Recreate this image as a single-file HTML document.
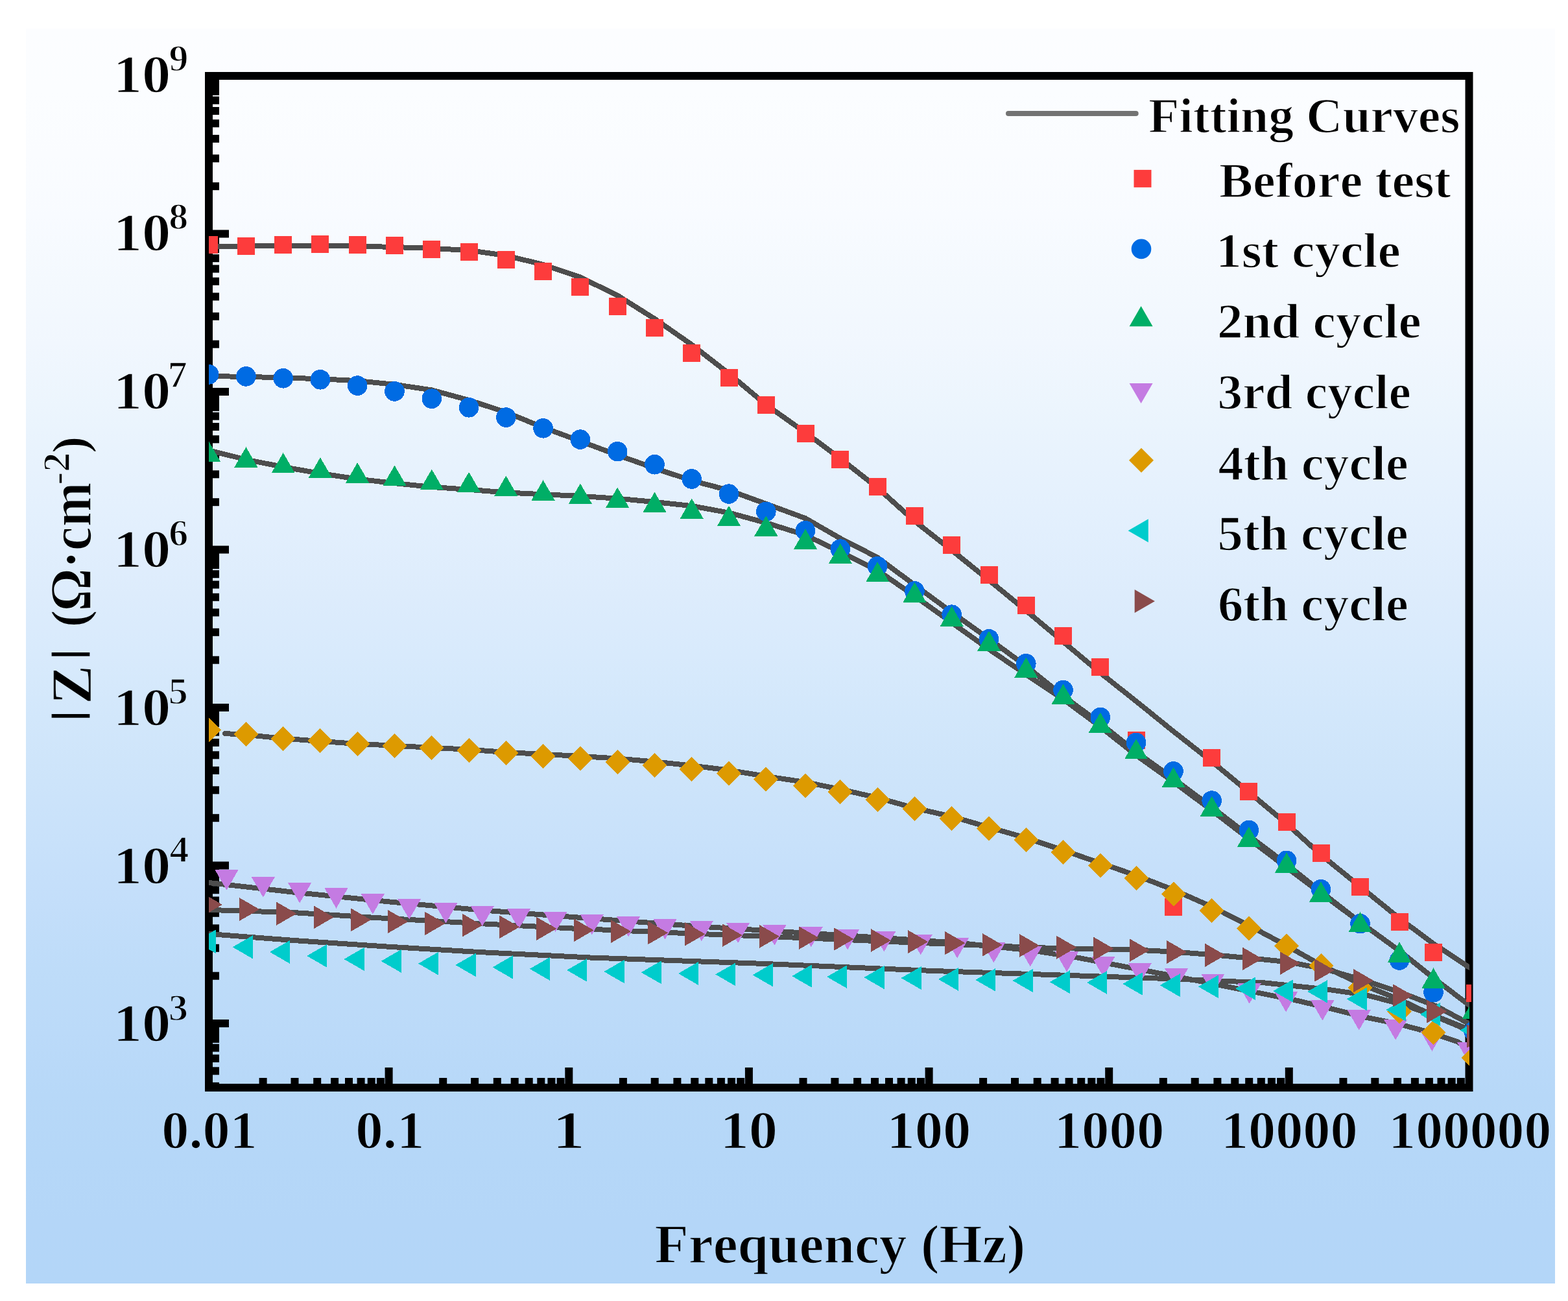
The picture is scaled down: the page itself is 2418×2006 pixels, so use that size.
<!DOCTYPE html><html><head><meta charset="utf-8"><title>Bode |Z| plot</title><style>html,body{margin:0;padding:0;background:#fff;width:2418px;height:2006px;overflow:hidden}svg{display:block}text{font-family:'Liberation Serif',serif;font-weight:bold;font-kerning:none}</style></head><body>
<svg width="2418" height="2006" viewBox="0 0 2418 2006">
<defs><linearGradient id="bg" x1="0" y1="0" x2="0" y2="1"><stop offset="0.00" stop-color="#fcfdff"/><stop offset="0.05" stop-color="#fbfdff"/><stop offset="0.10" stop-color="#fafcff"/><stop offset="0.15" stop-color="#f8fbff"/><stop offset="0.20" stop-color="#f4f9fe"/><stop offset="0.25" stop-color="#f1f7fe"/><stop offset="0.30" stop-color="#ecf5fd"/><stop offset="0.35" stop-color="#e7f2fd"/><stop offset="0.40" stop-color="#e2effd"/><stop offset="0.45" stop-color="#ddecfc"/><stop offset="0.50" stop-color="#d8eafc"/><stop offset="0.55" stop-color="#d2e7fb"/><stop offset="0.60" stop-color="#cde4fa"/><stop offset="0.65" stop-color="#c8e1fa"/><stop offset="0.70" stop-color="#c3defa"/><stop offset="0.75" stop-color="#bedcf9"/><stop offset="0.80" stop-color="#bbdaf9"/><stop offset="0.85" stop-color="#b7d8f8"/><stop offset="0.90" stop-color="#b5d7f8"/><stop offset="0.95" stop-color="#b4d6f8"/><stop offset="1.00" stop-color="#b3d6f8"/></linearGradient><clipPath id="pc"><rect x="322" y="117" width="1944" height="1560"/></clipPath></defs>
<rect width="2418" height="2006" fill="#fff"/>
<rect x="40" y="44" width="2358" height="1935" fill="url(#bg)"/>
<g fill="#000"><rect x="328" y="1668.9" width="10" height="12"/><rect x="328" y="1645.3" width="10" height="12"/><rect x="328" y="1626" width="10" height="12"/><rect x="328" y="1609.7" width="10" height="12"/><rect x="328" y="1595.6" width="10" height="12"/><rect x="328" y="1583.1" width="10" height="12"/><rect x="328" y="1572" width="25" height="12"/><rect x="328" y="1498.7" width="10" height="12"/><rect x="328" y="1455.8" width="10" height="12"/><rect x="328" y="1425.4" width="10" height="12"/><rect x="328" y="1401.8" width="10" height="12"/><rect x="328" y="1382.5" width="10" height="12"/><rect x="328" y="1366.2" width="10" height="12"/><rect x="328" y="1352.1" width="10" height="12"/><rect x="328" y="1339.6" width="10" height="12"/><rect x="328" y="1328.5" width="25" height="12"/><rect x="328" y="1255.2" width="10" height="12"/><rect x="328" y="1212.3" width="10" height="12"/><rect x="328" y="1181.9" width="10" height="12"/><rect x="328" y="1158.3" width="10" height="12"/><rect x="328" y="1139" width="10" height="12"/><rect x="328" y="1122.7" width="10" height="12"/><rect x="328" y="1108.6" width="10" height="12"/><rect x="328" y="1096.1" width="10" height="12"/><rect x="328" y="1085" width="25" height="12"/><rect x="328" y="1011.7" width="10" height="12"/><rect x="328" y="968.8" width="10" height="12"/><rect x="328" y="938.4" width="10" height="12"/><rect x="328" y="914.8" width="10" height="12"/><rect x="328" y="895.5" width="10" height="12"/><rect x="328" y="879.2" width="10" height="12"/><rect x="328" y="865.1" width="10" height="12"/><rect x="328" y="852.6" width="10" height="12"/><rect x="328" y="841.5" width="25" height="12"/><rect x="328" y="768.2" width="10" height="12"/><rect x="328" y="725.3" width="10" height="12"/><rect x="328" y="694.9" width="10" height="12"/><rect x="328" y="671.3" width="10" height="12"/><rect x="328" y="652" width="10" height="12"/><rect x="328" y="635.7" width="10" height="12"/><rect x="328" y="621.6" width="10" height="12"/><rect x="328" y="609.1" width="10" height="12"/><rect x="328" y="598" width="25" height="12"/><rect x="328" y="524.7" width="10" height="12"/><rect x="328" y="481.8" width="10" height="12"/><rect x="328" y="451.4" width="10" height="12"/><rect x="328" y="427.8" width="10" height="12"/><rect x="328" y="408.5" width="10" height="12"/><rect x="328" y="392.2" width="10" height="12"/><rect x="328" y="378.1" width="10" height="12"/><rect x="328" y="365.6" width="10" height="12"/><rect x="328" y="354.5" width="25" height="12"/><rect x="328" y="281.2" width="10" height="12"/><rect x="328" y="238.3" width="10" height="12"/><rect x="328" y="207.9" width="10" height="12"/><rect x="328" y="184.3" width="10" height="12"/><rect x="328" y="165" width="10" height="12"/><rect x="328" y="148.7" width="10" height="12"/><rect x="328" y="134.6" width="10" height="12"/><rect x="328" y="122.1" width="10" height="12"/><rect x="399.6" y="1662" width="12" height="9"/><rect x="448.5" y="1662" width="12" height="9"/><rect x="483.2" y="1662" width="12" height="9"/><rect x="510.1" y="1662" width="12" height="9"/><rect x="532" y="1662" width="12" height="9"/><rect x="550.6" y="1662" width="12" height="9"/><rect x="566.7" y="1662" width="12" height="9"/><rect x="580.9" y="1662" width="12" height="9"/><rect x="593.6" y="1646" width="12" height="25"/><rect x="677.2" y="1662" width="12" height="9"/><rect x="726.1" y="1662" width="12" height="9"/><rect x="760.8" y="1662" width="12" height="9"/><rect x="787.7" y="1662" width="12" height="9"/><rect x="809.7" y="1662" width="12" height="9"/><rect x="828.3" y="1662" width="12" height="9"/><rect x="844.4" y="1662" width="12" height="9"/><rect x="858.6" y="1662" width="12" height="9"/><rect x="871.3" y="1646" width="12" height="25"/><rect x="954.9" y="1662" width="12" height="9"/><rect x="1003.7" y="1662" width="12" height="9"/><rect x="1038.4" y="1662" width="12" height="9"/><rect x="1065.3" y="1662" width="12" height="9"/><rect x="1087.3" y="1662" width="12" height="9"/><rect x="1105.9" y="1662" width="12" height="9"/><rect x="1122" y="1662" width="12" height="9"/><rect x="1136.2" y="1662" width="12" height="9"/><rect x="1148.9" y="1646" width="12" height="25"/><rect x="1232.5" y="1662" width="12" height="9"/><rect x="1281.4" y="1662" width="12" height="9"/><rect x="1316.1" y="1662" width="12" height="9"/><rect x="1343" y="1662" width="12" height="9"/><rect x="1365" y="1662" width="12" height="9"/><rect x="1383.6" y="1662" width="12" height="9"/><rect x="1399.7" y="1662" width="12" height="9"/><rect x="1413.9" y="1662" width="12" height="9"/><rect x="1426.6" y="1646" width="12" height="25"/><rect x="1510.1" y="1662" width="12" height="9"/><rect x="1559" y="1662" width="12" height="9"/><rect x="1593.7" y="1662" width="12" height="9"/><rect x="1620.6" y="1662" width="12" height="9"/><rect x="1642.6" y="1662" width="12" height="9"/><rect x="1661.2" y="1662" width="12" height="9"/><rect x="1677.3" y="1662" width="12" height="9"/><rect x="1691.5" y="1662" width="12" height="9"/><rect x="1704.2" y="1646" width="12" height="25"/><rect x="1787.8" y="1662" width="12" height="9"/><rect x="1836.7" y="1662" width="12" height="9"/><rect x="1871.4" y="1662" width="12" height="9"/><rect x="1898.3" y="1662" width="12" height="9"/><rect x="1920.2" y="1662" width="12" height="9"/><rect x="1938.8" y="1662" width="12" height="9"/><rect x="1954.9" y="1662" width="12" height="9"/><rect x="1969.1" y="1662" width="12" height="9"/><rect x="1981.8" y="1646" width="12" height="25"/><rect x="2065.4" y="1662" width="12" height="9"/><rect x="2114.3" y="1662" width="12" height="9"/><rect x="2149" y="1662" width="12" height="9"/><rect x="2175.9" y="1662" width="12" height="9"/><rect x="2197.9" y="1662" width="12" height="9"/><rect x="2216.5" y="1662" width="12" height="9"/><rect x="2232.6" y="1662" width="12" height="9"/><rect x="2246.8" y="1662" width="12" height="9"/><rect x="328" y="1583.1" width="10" height="24.5"/><rect x="328" y="1339.6" width="10" height="24.5"/><rect x="328" y="1096.1" width="10" height="24.5"/><rect x="328" y="852.6" width="10" height="24.5"/><rect x="328" y="609.1" width="10" height="24.5"/><rect x="328" y="365.6" width="10" height="24.5"/><rect x="328" y="122.1" width="10" height="24.5"/><rect x="328" y="123" width="10" height="23"/></g>
<rect x="322" y="117" width="1943.5" height="1560" fill="none" stroke="#000" stroke-width="12"/>
<g clip-path="url(#pc)">
<polyline points="322.1,379.5 379.4,379.5 436.7,379.3 493.9,379 551.2,379.5 608.5,381 665.8,383 723.1,386 780.3,394 837.6,408 894.9,427.5 952.2,455.5 1009.5,491.5 1066.7,531.5 1124,576 1181.3,624 1242,667 1295.9,707 1353.1,752 1410.4,803.5 1467.7,848.5 1525,894.5 1582.3,941.5 1639.5,989.5 1696.8,1037.5 1752,1081.2 1809.5,1127.7 1868.7,1174.2 1925.9,1221.4 1984,1270 2037,1318 2097.5,1367 2158,1416 2210.5,1455 2272.5,1496" fill="none" stroke="#4d4d4d" stroke-width="8" stroke-linejoin="round" stroke-linecap="butt" shape-rendering="crispEdges"/>
<polyline points="322.1,580 379.4,580.9 436.7,582.3 493.9,584.3 551.2,587.1 608.5,592.9 665.8,601.4 723.1,617 780.3,635.7 837.6,659 894.9,680.3 952.2,701.6 1009.5,722 1066.7,741 1124,756 1181.3,776.8 1242,799.2 1295.9,830.2 1353.1,859.5 1410.4,902 1467.7,944 1525,985 1582.3,1027 1639.5,1073 1696.8,1115.5 1752,1159.5 1809.5,1200.5 1868.7,1244.5 1925.9,1288.5 1984,1332.5 2037,1374.8 2097.5,1422 2158,1466 2210.5,1508 2272.5,1555" fill="none" stroke="#4d4d4d" stroke-width="8" stroke-linejoin="round" stroke-linecap="butt" shape-rendering="crispEdges"/>
<polyline points="322.1,694.3 379.4,708.6 436.7,720 493.9,730 551.2,738.6 608.5,745.1 665.8,750.9 723.1,754.9 780.3,759.4 837.6,762.3 894.9,764.9 952.2,768.7 1009.5,774 1066.7,780.1 1124,790.6 1181.3,806.1 1242,825.1 1295.9,850.9 1353.1,879.3 1410.4,919 1467.7,960 1525,1001 1582.3,1040 1639.5,1078 1696.8,1120.5 1752,1164.5 1809.5,1205.5 1868.7,1249.5 1925.9,1293.5 1984,1337.5 2037,1377.2 2097.5,1422 2158,1466 2210.5,1508 2272.5,1555" fill="none" stroke="#4d4d4d" stroke-width="8" stroke-linejoin="round" stroke-linecap="butt" shape-rendering="crispEdges"/>
<polyline points="322,1361 452.9,1375.7 595.7,1390 738.6,1403 910,1416 1080,1428.6 1194,1435.7 1300,1442 1480,1454 1595,1466 1664,1477 1800,1503 1950,1532.7 1997.1,1542.1 2050.6,1554.7 2107.1,1568.8 2154.3,1578.3 2201.4,1590.8 2248.6,1606.6 2272,1625" fill="none" stroke="#4d4d4d" stroke-width="8" stroke-linejoin="round" stroke-linecap="butt" shape-rendering="crispEdges"/>
<polyline points="347,1131 379.4,1133 436.7,1138.6 493.9,1142.9 551.2,1146.9 608.5,1149.7 665.8,1152.9 723.1,1155.7 780.3,1160 837.6,1162.9 894.9,1166 952.2,1169.5 1009.5,1174.5 1066.7,1180.5 1124,1187.5 1181.3,1197 1242,1206 1295.9,1217 1353.1,1230 1410.4,1246 1467.7,1259 1525,1275.6 1582.3,1292 1639.5,1311 1696.8,1330.8 1752,1349.7 1809.5,1372 1868.7,1398 1925.9,1427 1984,1458 2037,1488 2097.5,1517 2158,1541 2210.5,1566 2272.5,1592" fill="none" stroke="#4d4d4d" stroke-width="8" stroke-linejoin="round" stroke-linecap="round" shape-rendering="crispEdges"/>
<polyline points="322,1440 452.9,1450 595.7,1459.5 738.6,1468 910,1476.5 1180,1486 1440,1497 1800,1509 1950,1515.4 2047,1525.6 2107,1534.3 2160,1548 2210,1565 2272,1590" fill="none" stroke="#4d4d4d" stroke-width="8" stroke-linejoin="round" stroke-linecap="butt" shape-rendering="crispEdges"/>
<polyline points="322,1402.9 452.9,1407.1 595.7,1416 738.6,1424 880,1431.4 1080,1440 1194,1444.3 1440,1454.8 1612,1461.5 1751.7,1464.6 1809.1,1467.5 1872.3,1472.4 1929.7,1477.6 1987.1,1483.3 2044.5,1494.5 2102,1511 2159.4,1530 2216.8,1552.2 2272,1582" fill="none" stroke="#4d4d4d" stroke-width="8" stroke-linejoin="round" stroke-linecap="butt" shape-rendering="crispEdges"/>
<g shape-rendering="crispEdges"><rect x="308.6" y="363.9" width="27" height="27" fill="#fd3c3c"/><rect x="365.9" y="366.1" width="27" height="27" fill="#fd3c3c"/><rect x="423.2" y="364.1" width="27" height="27" fill="#fd3c3c"/><rect x="480.4" y="363.4" width="27" height="27" fill="#fd3c3c"/><rect x="537.7" y="364.1" width="27" height="27" fill="#fd3c3c"/><rect x="595" y="365.1" width="27" height="27" fill="#fd3c3c"/><rect x="652.3" y="371.4" width="27" height="27" fill="#fd3c3c"/><rect x="709.6" y="375.4" width="27" height="27" fill="#fd3c3c"/><rect x="766.8" y="386.9" width="27" height="27" fill="#fd3c3c"/><rect x="824.1" y="405.4" width="27" height="27" fill="#fd3c3c"/><rect x="881.4" y="428.9" width="27" height="27" fill="#fd3c3c"/><rect x="938.7" y="458.8" width="27" height="27" fill="#fd3c3c"/><rect x="996" y="491.8" width="27" height="27" fill="#fd3c3c"/><rect x="1053.2" y="531.2" width="27" height="27" fill="#fd3c3c"/><rect x="1110.5" y="568.8" width="27" height="27" fill="#fd3c3c"/><rect x="1167.8" y="611" width="27" height="27" fill="#fd3c3c"/><rect x="1228.5" y="654.9" width="27" height="27" fill="#fd3c3c"/><rect x="1282.4" y="694.5" width="27" height="27" fill="#fd3c3c"/><rect x="1339.6" y="737.3" width="27" height="27" fill="#fd3c3c"/><rect x="1396.9" y="782" width="27" height="27" fill="#fd3c3c"/><rect x="1454.2" y="826.9" width="27" height="27" fill="#fd3c3c"/><rect x="1511.5" y="872.9" width="27" height="27" fill="#fd3c3c"/><rect x="1568.8" y="920" width="27" height="27" fill="#fd3c3c"/><rect x="1626" y="967.2" width="27" height="27" fill="#fd3c3c"/><rect x="1683.3" y="1015" width="27" height="27" fill="#fd3c3c"/><rect x="1738.5" y="1127.5" width="27" height="27" fill="#fd3c3c"/><rect x="1796" y="1384.5" width="27" height="27" fill="#fd3c3c"/><rect x="1855.2" y="1155.4" width="27" height="27" fill="#fd3c3c"/><rect x="1912.4" y="1206.9" width="27" height="27" fill="#fd3c3c"/><rect x="1970.5" y="1254" width="27" height="27" fill="#fd3c3c"/><rect x="2023.5" y="1302.1" width="27" height="27" fill="#fd3c3c"/><rect x="2084" y="1353.9" width="27" height="27" fill="#fd3c3c"/><rect x="2144.5" y="1407.8" width="27" height="27" fill="#fd3c3c"/><rect x="2197" y="1455.4" width="27" height="27" fill="#fd3c3c"/><circle cx="322.1" cy="577.4" r="15.3" fill="#006be3"/><circle cx="379.4" cy="580.4" r="15.3" fill="#006be3"/><circle cx="436.7" cy="583.3" r="15.3" fill="#006be3"/><circle cx="493.9" cy="585.3" r="15.3" fill="#006be3"/><circle cx="551.2" cy="594.6" r="15.3" fill="#006be3"/><circle cx="608.5" cy="603.4" r="15.3" fill="#006be3"/><circle cx="665.8" cy="614.7" r="15.3" fill="#006be3"/><circle cx="723.1" cy="628.3" r="15.3" fill="#006be3"/><circle cx="780.3" cy="643.6" r="15.3" fill="#006be3"/><circle cx="837.6" cy="660.3" r="15.3" fill="#006be3"/><circle cx="894.9" cy="677.6" r="15.3" fill="#006be3"/><circle cx="952.2" cy="696.2" r="15.3" fill="#006be3"/><circle cx="1009.5" cy="716.2" r="15.3" fill="#006be3"/><circle cx="1066.7" cy="738.5" r="15.3" fill="#006be3"/><circle cx="1124" cy="761.6" r="15.3" fill="#006be3"/><circle cx="1181.3" cy="788.8" r="15.3" fill="#006be3"/><circle cx="1242" cy="818.3" r="15.3" fill="#006be3"/><circle cx="1295.9" cy="846.6" r="15.3" fill="#006be3"/><circle cx="1353.1" cy="873.3" r="15.3" fill="#006be3"/><circle cx="1410.4" cy="911.5" r="15.3" fill="#006be3"/><circle cx="1467.7" cy="947.7" r="15.3" fill="#006be3"/><circle cx="1525" cy="985.4" r="15.3" fill="#006be3"/><circle cx="1582.3" cy="1023.2" r="15.3" fill="#006be3"/><circle cx="1639.5" cy="1064" r="15.3" fill="#006be3"/><circle cx="1696.8" cy="1106" r="15.3" fill="#006be3"/><circle cx="1752" cy="1145" r="15.3" fill="#006be3"/><circle cx="1809.5" cy="1189.3" r="15.3" fill="#006be3"/><circle cx="1868.7" cy="1234.6" r="15.3" fill="#006be3"/><circle cx="1925.9" cy="1280" r="15.3" fill="#006be3"/><circle cx="1984" cy="1326.8" r="15.3" fill="#006be3"/><circle cx="2037" cy="1371.3" r="15.3" fill="#006be3"/><circle cx="2097.5" cy="1424.2" r="15.3" fill="#006be3"/><circle cx="2158" cy="1480.6" r="15.3" fill="#006be3"/><circle cx="2210.5" cy="1530.2" r="15.3" fill="#006be3"/><circle cx="2272.5" cy="1590" r="15.3" fill="#006be3"/><polygon points="322.1,680.6 340.1,711.8 304.1,711.8" fill="#00ae66"/><polygon points="379.4,689.3 397.4,720.5 361.4,720.5" fill="#00ae66"/><polygon points="436.7,698.1 454.7,729.3 418.7,729.3" fill="#00ae66"/><polygon points="493.9,705.3 511.9,736.5 475.9,736.5" fill="#00ae66"/><polygon points="551.2,713.3 569.2,744.5 533.2,744.5" fill="#00ae66"/><polygon points="608.5,717.6 626.5,748.8 590.5,748.8" fill="#00ae66"/><polygon points="665.8,723.6 683.8,754.8 647.8,754.8" fill="#00ae66"/><polygon points="723.1,727.8 741.1,759 705.1,759" fill="#00ae66"/><polygon points="780.3,733.6 798.3,764.8 762.3,764.8" fill="#00ae66"/><polygon points="837.6,740.3 855.6,771.5 819.6,771.5" fill="#00ae66"/><polygon points="894.9,745.5 912.9,776.7 876.9,776.7" fill="#00ae66"/><polygon points="952.2,751.5 970.2,782.7 934.2,782.7" fill="#00ae66"/><polygon points="1009.5,758.7 1027.5,789.9 991.5,789.9" fill="#00ae66"/><polygon points="1066.7,768.5 1084.7,799.7 1048.7,799.7" fill="#00ae66"/><polygon points="1124,779.7 1142,810.9 1106,810.9" fill="#00ae66"/><polygon points="1181.3,795.4 1199.3,826.6 1163.3,826.6" fill="#00ae66"/><polygon points="1242,815.5 1260,846.7 1224,846.7" fill="#00ae66"/><polygon points="1295.9,837.8 1313.9,869 1277.9,869" fill="#00ae66"/><polygon points="1353.1,866.2 1371.1,897.4 1335.1,897.4" fill="#00ae66"/><polygon points="1410.4,897.6 1428.4,928.8 1392.4,928.8" fill="#00ae66"/><polygon points="1467.7,934.6 1485.7,965.8 1449.7,965.8" fill="#00ae66"/><polygon points="1525,972.8 1543,1004 1507,1004" fill="#00ae66"/><polygon points="1582.3,1013.6 1600.3,1044.8 1564.3,1044.8" fill="#00ae66"/><polygon points="1639.5,1054.6 1657.5,1085.8 1621.5,1085.8" fill="#00ae66"/><polygon points="1696.8,1098.5 1714.8,1129.7 1678.8,1129.7" fill="#00ae66"/><polygon points="1752,1139.2 1770,1170.4 1734,1170.4" fill="#00ae66"/><polygon points="1809.5,1182.9 1827.5,1214.1 1791.5,1214.1" fill="#00ae66"/><polygon points="1868.7,1227.5 1886.7,1258.7 1850.7,1258.7" fill="#00ae66"/><polygon points="1925.9,1274.6 1943.9,1305.8 1907.9,1305.8" fill="#00ae66"/><polygon points="1984,1314.5 2002,1345.7 1966,1345.7" fill="#00ae66"/><polygon points="2037,1359.5 2055,1390.7 2019,1390.7" fill="#00ae66"/><polygon points="2097.5,1405.9 2115.5,1437.1 2079.5,1437.1" fill="#00ae66"/><polygon points="2158,1452.4 2176,1483.6 2140,1483.6" fill="#00ae66"/><polygon points="2210.5,1492.4 2228.5,1523.6 2192.5,1523.6" fill="#00ae66"/><polygon points="2272.5,1540.2 2290.5,1571.4 2254.5,1571.4" fill="#00ae66"/><polygon points="349.5,1372.4 367.5,1341.2 331.5,1341.2" fill="#c47be2"/><polygon points="405.8,1383.5 423.8,1352.3 387.8,1352.3" fill="#c47be2"/><polygon points="462.2,1392.5 480.2,1361.3 444.2,1361.3" fill="#c47be2"/><polygon points="518.5,1400.6 536.5,1369.4 500.5,1369.4" fill="#c47be2"/><polygon points="574.8,1409.5 592.8,1378.3 556.8,1378.3" fill="#c47be2"/><polygon points="631.1,1417.4 649.1,1386.2 613.1,1386.2" fill="#c47be2"/><polygon points="687.5,1423.3 705.5,1392.1 669.5,1392.1" fill="#c47be2"/><polygon points="743.8,1428.2 761.8,1397 725.8,1397" fill="#c47be2"/><polygon points="800.1,1432.4 818.1,1401.2 782.1,1401.2" fill="#c47be2"/><polygon points="856.5,1437.2 874.5,1406 838.5,1406" fill="#c47be2"/><polygon points="912.8,1441.3 930.8,1410.1 894.8,1410.1" fill="#c47be2"/><polygon points="969.1,1444.4 987.1,1413.2 951.1,1413.2" fill="#c47be2"/><polygon points="1025.5,1448.4 1043.5,1417.2 1007.5,1417.2" fill="#c47be2"/><polygon points="1081.8,1451.3 1099.8,1420.1 1063.8,1420.1" fill="#c47be2"/><polygon points="1138.1,1454.1 1156.1,1422.9 1120.1,1422.9" fill="#c47be2"/><polygon points="1194.4,1457.6 1212.4,1426.4 1176.4,1426.4" fill="#c47be2"/><polygon points="1250.8,1460.4 1268.8,1429.2 1232.8,1429.2" fill="#c47be2"/><polygon points="1307.1,1464.4 1325.1,1433.2 1289.1,1433.2" fill="#c47be2"/><polygon points="1363.4,1467.3 1381.4,1436.1 1345.4,1436.1" fill="#c47be2"/><polygon points="1419.8,1472.4 1437.8,1441.2 1401.8,1441.2" fill="#c47be2"/><polygon points="1476.1,1477.3 1494.1,1446.1 1458.1,1446.1" fill="#c47be2"/><polygon points="1532.4,1484.4 1550.4,1453.2 1514.4,1453.2" fill="#c47be2"/><polygon points="1588.8,1490.4 1606.8,1459.2 1570.8,1459.2" fill="#c47be2"/><polygon points="1645.1,1498.6 1663.1,1467.4 1627.1,1467.4" fill="#c47be2"/><polygon points="1701.4,1506.2 1719.4,1475 1683.4,1475" fill="#c47be2"/><polygon points="1757.8,1516.2 1775.8,1485 1739.8,1485" fill="#c47be2"/><polygon points="1814.1,1524.3 1832.1,1493.1 1796.1,1493.1" fill="#c47be2"/><polygon points="1870.4,1532.8 1888.4,1501.6 1852.4,1501.6" fill="#c47be2"/><polygon points="1926.7,1547.6 1944.7,1516.4 1908.7,1516.4" fill="#c47be2"/><polygon points="1983.1,1560.3 2001.1,1529.1 1965.1,1529.1" fill="#c47be2"/><polygon points="2039.4,1573.6 2057.4,1542.4 2021.4,1542.4" fill="#c47be2"/><polygon points="2095.7,1588.4 2113.7,1557.2 2077.7,1557.2" fill="#c47be2"/><polygon points="2152.1,1603.5 2170.1,1572.3 2134.1,1572.3" fill="#c47be2"/><polygon points="2208.4,1620.8 2226.4,1589.6 2190.4,1589.6" fill="#c47be2"/><polygon points="2264.7,1637.8 2282.7,1606.6 2246.7,1606.6" fill="#c47be2"/><polygon points="322.1,1106.7 341.1,1125.7 322.1,1144.7 303.1,1125.7" fill="#dd9a00"/><polygon points="379.4,1113.1 398.4,1132.1 379.4,1151.1 360.4,1132.1" fill="#dd9a00"/><polygon points="436.7,1119.9 455.7,1138.9 436.7,1157.9 417.7,1138.9" fill="#dd9a00"/><polygon points="493.9,1123.1 512.9,1142.1 493.9,1161.1 474.9,1142.1" fill="#dd9a00"/><polygon points="551.2,1127.9 570.2,1146.9 551.2,1165.9 532.2,1146.9" fill="#dd9a00"/><polygon points="608.5,1130.7 627.5,1149.7 608.5,1168.7 589.5,1149.7" fill="#dd9a00"/><polygon points="665.8,1133.9 684.8,1152.9 665.8,1171.9 646.8,1152.9" fill="#dd9a00"/><polygon points="723.1,1138 742.1,1157 723.1,1176 704.1,1157" fill="#dd9a00"/><polygon points="780.3,1142.1 799.3,1161.1 780.3,1180.1 761.3,1161.1" fill="#dd9a00"/><polygon points="837.6,1146.9 856.6,1165.9 837.6,1184.9 818.6,1165.9" fill="#dd9a00"/><polygon points="894.9,1150.9 913.9,1169.9 894.9,1188.9 875.9,1169.9" fill="#dd9a00"/><polygon points="952.2,1155.9 971.2,1174.9 952.2,1193.9 933.2,1174.9" fill="#dd9a00"/><polygon points="1009.5,1160.7 1028.5,1179.7 1009.5,1198.7 990.5,1179.7" fill="#dd9a00"/><polygon points="1066.7,1167 1085.7,1186 1066.7,1205 1047.7,1186" fill="#dd9a00"/><polygon points="1124,1173.9 1143,1192.9 1124,1211.9 1105,1192.9" fill="#dd9a00"/><polygon points="1181.3,1182.6 1200.3,1201.6 1181.3,1220.6 1162.3,1201.6" fill="#dd9a00"/><polygon points="1242,1192.1 1261,1211.1 1242,1230.1 1223,1211.1" fill="#dd9a00"/><polygon points="1295.9,1202.1 1314.9,1221.1 1295.9,1240.1 1276.9,1221.1" fill="#dd9a00"/><polygon points="1353.1,1214.1 1372.1,1233.1 1353.1,1252.1 1334.1,1233.1" fill="#dd9a00"/><polygon points="1410.4,1227.9 1429.4,1246.9 1410.4,1265.9 1391.4,1246.9" fill="#dd9a00"/><polygon points="1467.7,1242.8 1486.7,1261.8 1467.7,1280.8 1448.7,1261.8" fill="#dd9a00"/><polygon points="1525,1258.5 1544,1277.5 1525,1296.5 1506,1277.5" fill="#dd9a00"/><polygon points="1582.3,1276.1 1601.3,1295.1 1582.3,1314.1 1563.3,1295.1" fill="#dd9a00"/><polygon points="1639.5,1295 1658.5,1314 1639.5,1333 1620.5,1314" fill="#dd9a00"/><polygon points="1696.8,1315.5 1715.8,1334.5 1696.8,1353.5 1677.8,1334.5" fill="#dd9a00"/><polygon points="1752,1335 1771,1354 1752,1373 1733,1354" fill="#dd9a00"/><polygon points="1809.5,1359.5 1828.5,1378.5 1809.5,1397.5 1790.5,1378.5" fill="#dd9a00"/><polygon points="1868.7,1384.8 1887.7,1403.8 1868.7,1422.8 1849.7,1403.8" fill="#dd9a00"/><polygon points="1925.9,1412.6 1944.9,1431.6 1925.9,1450.6 1906.9,1431.6" fill="#dd9a00"/><polygon points="1984,1439.6 2003,1458.6 1984,1477.6 1965,1458.6" fill="#dd9a00"/><polygon points="2037,1470 2056,1489 2037,1508 2018,1489" fill="#dd9a00"/><polygon points="2097.5,1504.4 2116.5,1523.4 2097.5,1542.4 2078.5,1523.4" fill="#dd9a00"/><polygon points="2158,1540.4 2177,1559.4 2158,1578.4 2139,1559.4" fill="#dd9a00"/><polygon points="2210.5,1573 2229.5,1592 2210.5,1611 2191.5,1592" fill="#dd9a00"/><polygon points="2272.5,1612.4 2291.5,1631.4 2272.5,1650.4 2253.5,1631.4" fill="#dd9a00"/><polygon points="301.3,1451.7 332.5,1433.7 332.5,1469.7" fill="#00cccc"/><polygon points="358.6,1460.3 389.8,1442.3 389.8,1478.3" fill="#00cccc"/><polygon points="415.9,1467.9 447.1,1449.9 447.1,1485.9" fill="#00cccc"/><polygon points="473.2,1473.9 504.3,1455.9 504.3,1491.9" fill="#00cccc"/><polygon points="530.4,1478.9 561.6,1460.9 561.6,1496.9" fill="#00cccc"/><polygon points="587.7,1481.9 618.9,1463.9 618.9,1499.9" fill="#00cccc"/><polygon points="645,1485.7 676.2,1467.7 676.2,1503.7" fill="#00cccc"/><polygon points="702.3,1487.9 733.5,1469.9 733.5,1505.9" fill="#00cccc"/><polygon points="759.6,1491.4 790.7,1473.4 790.7,1509.4" fill="#00cccc"/><polygon points="816.8,1493.9 848,1475.9 848,1511.9" fill="#00cccc"/><polygon points="874.1,1495.9 905.3,1477.9 905.3,1513.9" fill="#00cccc"/><polygon points="931.4,1498.1 962.6,1480.1 962.6,1516.1" fill="#00cccc"/><polygon points="988.7,1499.3 1019.9,1481.3 1019.9,1517.3" fill="#00cccc"/><polygon points="1046,1501 1077.1,1483 1077.1,1519" fill="#00cccc"/><polygon points="1103.2,1502.4 1134.4,1484.4 1134.4,1520.4" fill="#00cccc"/><polygon points="1160.5,1503.3 1191.7,1485.3 1191.7,1521.3" fill="#00cccc"/><polygon points="1221.2,1505 1252.4,1487 1252.4,1523" fill="#00cccc"/><polygon points="1275.1,1506.1 1306.3,1488.1 1306.3,1524.1" fill="#00cccc"/><polygon points="1332.4,1507.1 1363.5,1489.1 1363.5,1525.1" fill="#00cccc"/><polygon points="1389.6,1508 1420.8,1490 1420.8,1526" fill="#00cccc"/><polygon points="1446.9,1509.9 1478.1,1491.9 1478.1,1527.9" fill="#00cccc"/><polygon points="1504.2,1510.9 1535.4,1492.9 1535.4,1528.9" fill="#00cccc"/><polygon points="1561.5,1512 1592.7,1494 1592.7,1530" fill="#00cccc"/><polygon points="1618.8,1514.2 1649.9,1496.2 1649.9,1532.2" fill="#00cccc"/><polygon points="1676,1515 1707.2,1497 1707.2,1533" fill="#00cccc"/><polygon points="1731.2,1517 1762.4,1499 1762.4,1535" fill="#00cccc"/><polygon points="1788.7,1519.2 1819.9,1501.2 1819.9,1537.2" fill="#00cccc"/><polygon points="1847.9,1521.3 1879.1,1503.3 1879.1,1539.3" fill="#00cccc"/><polygon points="1905.2,1524.2 1936.3,1506.2 1936.3,1542.2" fill="#00cccc"/><polygon points="1963.2,1528 1994.4,1510 1994.4,1546" fill="#00cccc"/><polygon points="2016.2,1528.9 2047.4,1510.9 2047.4,1546.9" fill="#00cccc"/><polygon points="2076.7,1540.4 2107.9,1522.4 2107.9,1558.4" fill="#00cccc"/><polygon points="2137.2,1557 2168.4,1539 2168.4,1575" fill="#00cccc"/><polygon points="2189.7,1564 2220.9,1546 2220.9,1582" fill="#00cccc"/><polygon points="2251.7,1588.5 2282.9,1570.5 2282.9,1606.5" fill="#00cccc"/><polygon points="342.9,1394.9 311.7,1376.9 311.7,1412.9" fill="#8a4b4b"/><polygon points="400.2,1402.1 369,1384.1 369,1420.1" fill="#8a4b4b"/><polygon points="457.4,1408.7 426.3,1390.7 426.3,1426.7" fill="#8a4b4b"/><polygon points="514.7,1414.3 483.5,1396.3 483.5,1432.3" fill="#8a4b4b"/><polygon points="572,1418.3 540.8,1400.3 540.8,1436.3" fill="#8a4b4b"/><polygon points="629.3,1421 598.1,1403 598.1,1439" fill="#8a4b4b"/><polygon points="686.6,1423.9 655.4,1405.9 655.4,1441.9" fill="#8a4b4b"/><polygon points="743.8,1426.7 712.7,1408.7 712.7,1444.7" fill="#8a4b4b"/><polygon points="801.1,1429.3 769.9,1411.3 769.9,1447.3" fill="#8a4b4b"/><polygon points="858.4,1431.9 827.2,1413.9 827.2,1449.9" fill="#8a4b4b"/><polygon points="915.7,1434.3 884.5,1416.3 884.5,1452.3" fill="#8a4b4b"/><polygon points="973,1436.1 941.8,1418.1 941.8,1454.1" fill="#8a4b4b"/><polygon points="1030.2,1438.3 999.1,1420.3 999.1,1456.3" fill="#8a4b4b"/><polygon points="1087.5,1440.3 1056.3,1422.3 1056.3,1458.3" fill="#8a4b4b"/><polygon points="1144.8,1442.1 1113.6,1424.1 1113.6,1460.1" fill="#8a4b4b"/><polygon points="1202.1,1443.9 1170.9,1425.9 1170.9,1461.9" fill="#8a4b4b"/><polygon points="1262.8,1446.1 1231.6,1428.1 1231.6,1464.1" fill="#8a4b4b"/><polygon points="1316.6,1448 1285.5,1430 1285.5,1466" fill="#8a4b4b"/><polygon points="1373.9,1450 1342.7,1432 1342.7,1468" fill="#8a4b4b"/><polygon points="1431.2,1452.1 1400,1434.1 1400,1470.1" fill="#8a4b4b"/><polygon points="1488.5,1454.1 1457.3,1436.1 1457.3,1472.1" fill="#8a4b4b"/><polygon points="1545.8,1456.9 1514.6,1438.9 1514.6,1474.9" fill="#8a4b4b"/><polygon points="1603,1458 1571.9,1440 1571.9,1476" fill="#8a4b4b"/><polygon points="1660.3,1460.8 1629.1,1442.8 1629.1,1478.8" fill="#8a4b4b"/><polygon points="1717.6,1462.8 1686.4,1444.8 1686.4,1480.8" fill="#8a4b4b"/><polygon points="1772.8,1465.1 1741.6,1447.1 1741.6,1483.1" fill="#8a4b4b"/><polygon points="1830.3,1468 1799.1,1450 1799.1,1486" fill="#8a4b4b"/><polygon points="1889.4,1472.8 1858.3,1454.8 1858.3,1490.8" fill="#8a4b4b"/><polygon points="1946.7,1478.3 1915.5,1460.3 1915.5,1496.3" fill="#8a4b4b"/><polygon points="2004.8,1485.2 1973.6,1467.2 1973.6,1503.2" fill="#8a4b4b"/><polygon points="2057.8,1496 2026.6,1478 2026.6,1514" fill="#8a4b4b"/><polygon points="2118.3,1512 2087.1,1494 2087.1,1530" fill="#8a4b4b"/><polygon points="2178.8,1535 2147.6,1517 2147.6,1553" fill="#8a4b4b"/><polygon points="2231.3,1559.5 2200.1,1541.5 2200.1,1577.5" fill="#8a4b4b"/><polygon points="2293.3,1597.5 2262.1,1579.5 2262.1,1615.5" fill="#8a4b4b"/></g>
</g>
<rect x="2261" y="1518" width="8" height="27" fill="#fd3c3c"/>
<text transform="translate(174.7 1605.4) scale(1.0787 1)" font-size="82" stroke="#bbdaf9" stroke-width="1.5">10</text><text transform="translate(260 1572.7) scale(1.0620 1)" font-size="56.5" stroke="#bcdbf9" stroke-width="1.5">3</text><text transform="translate(174.7 1361.5) scale(1.0787 1)" font-size="82" stroke="#c6e0fa" stroke-width="1.5">10</text><text transform="translate(261.4 1328.8) scale(1.0568 1)" font-size="56.5" stroke="#c7e1fa" stroke-width="1.5">4</text><text transform="translate(174.7 1117.6) scale(1.0787 1)" font-size="82" stroke="#d3e7fb" stroke-width="1.5">10</text><text transform="translate(259.8 1084.9) scale(1.0627 1)" font-size="56.5" stroke="#d4e8fb" stroke-width="1.5">5</text><text transform="translate(174.7 873.7) scale(1.0787 1)" font-size="82" stroke="#e1eefc" stroke-width="1.5">10</text><text transform="translate(260.2 841) scale(1.0608 1)" font-size="56.5" stroke="#e2effd" stroke-width="1.5">6</text><text transform="translate(174.7 629.8) scale(1.0787 1)" font-size="82" stroke="#edf5fe" stroke-width="1.5">10</text><text transform="translate(258.8 597.1) scale(1.0634 1)" font-size="56.5" stroke="#eef6fe" stroke-width="1.5">7</text><text transform="translate(174.7 385.9) scale(1.0787 1)" font-size="82" stroke="#f7fafe" stroke-width="1.5">10</text><text transform="translate(260.3 353.2) scale(1.0612 1)" font-size="56.5" stroke="#f8fbff" stroke-width="1.5">8</text><text transform="translate(174.7 142) scale(1.0787 1)" font-size="82" stroke="#fcfdff" stroke-width="1.5">10</text><text transform="translate(260.6 109.3) scale(1.0608 1)" font-size="56.5" stroke="#fcfdff" stroke-width="1.5">9</text><text transform="translate(249.3 1770) scale(1.0277 1)" font-size="82" stroke="#b6d8f8" stroke-width="1.5">0.01</text><text transform="translate(548.3 1770) scale(1.0354 1)" font-size="82" stroke="#b6d8f8" stroke-width="1.5">0.1</text><text transform="translate(852 1770) scale(1.2190 1)" font-size="82" stroke="#b6d8f8" stroke-width="1.5">1</text><text transform="translate(1110.5 1770) scale(1.0814 1)" font-size="82" stroke="#b6d8f8" stroke-width="1.5">10</text><text transform="translate(1367.4 1770) scale(1.0573 1)" font-size="82" stroke="#b6d8f8" stroke-width="1.5">100</text><text transform="translate(1625.7 1770) scale(1.0343 1)" font-size="82" stroke="#b6d8f8" stroke-width="1.5">1000</text><text transform="translate(1882.9 1770) scale(1.0276 1)" font-size="82" stroke="#b6d8f8" stroke-width="1.5">10000</text><text transform="translate(2141.3 1770) scale(1.0203 1)" font-size="82" stroke="#b6d8f8" stroke-width="1.5">100000</text>
<text transform="translate(1009.6 1946.6) scale(0.9990 1)" font-size="85.5" stroke="#b3d6f8" stroke-width="1.5">Frequency (Hz)</text>
<g transform="translate(139 1107) rotate(-90)"><text transform="translate(-9 -13.6) scale(1.2898 0.7779)" font-size="85.5" stroke="#d2e7fb" stroke-width="1.5">|</text><text transform="translate(20.9 0.7) scale(1.0598 1.0271)" font-size="85.5" stroke="#d5e8fb" stroke-width="1.5">Z</text><text transform="translate(86 -13.6) scale(1.2898 0.7779)" font-size="85.5" stroke="#d8eafc" stroke-width="1.5">|</text><text transform="translate(139.7 -6.5) scale(0.9426 0.9029)" font-size="85.5" stroke="#dbebfc" stroke-width="1.5">(</text><text transform="translate(164.4 0.5) scale(0.9656 1.0522)" font-size="85.5" stroke="#e1effc" stroke-width="1.5">Ω·cm</text><text transform="translate(359.2 -32.2) scale(1.0737 1.0383)" font-size="56" stroke="#e7f2fd" stroke-width="1.5">-2</text><text transform="translate(407.9 -6.5) scale(0.9290 0.9029)" font-size="85.5" stroke="#e9f3fd" stroke-width="1.5">)</text></g>
<line x1="1555" y1="175" x2="1751.7" y2="175" stroke="#737373" stroke-width="8" stroke-linecap="round"/><text transform="translate(1770.9 204) scale(1.0208 1)" font-size="76" stroke="#fbfcff" stroke-width="1.5">Fitting Curves</text><text transform="translate(1880 303.7) scale(1.0273 1)" font-size="76" stroke="#f9fbff" stroke-width="1.5">Before test</text><text transform="translate(1874.9 411.9) scale(1.0468 1)" font-size="76" stroke="#f6fafe" stroke-width="1.5">1st cycle</text><text transform="translate(1876.9 521.2) scale(1.0432 1)" font-size="76" stroke="#f2f8fe" stroke-width="1.5">2nd cycle</text><text transform="translate(1877.6 630.4) scale(1.0170 1)" font-size="76" stroke="#edf5fe" stroke-width="1.5">3rd cycle</text><text transform="translate(1878.6 739.7) scale(1.0288 1)" font-size="76" stroke="#e8f2fd" stroke-width="1.5">4th cycle</text><text transform="translate(1877.4 848.2) scale(1.0329 1)" font-size="76" stroke="#e2effc" stroke-width="1.5">5th cycle</text><text transform="translate(1877.9 956.7) scale(1.0313 1)" font-size="76" stroke="#dcecfc" stroke-width="1.5">6th cycle</text><rect x="1748.5" y="261.9" width="27" height="27" fill="#fd3c3c"/><circle cx="1760" cy="383.9" r="15.3" fill="#006be3"/><polygon points="1759.6,472 1777.6,503.2 1741.6,503.2" fill="#00ae66"/><polygon points="1759.6,622.1 1777.6,590.9 1741.6,590.9" fill="#c47be2"/><polygon points="1760,690.7 1779,709.7 1760,728.7 1741,709.7" fill="#dd9a00"/><polygon points="1739.6,818.3 1770.8,800.3 1770.8,836.3" fill="#00cccc"/><polygon points="1780.9,927 1749.7,909 1749.7,945" fill="#8a4b4b"/>
</svg></body></html>
